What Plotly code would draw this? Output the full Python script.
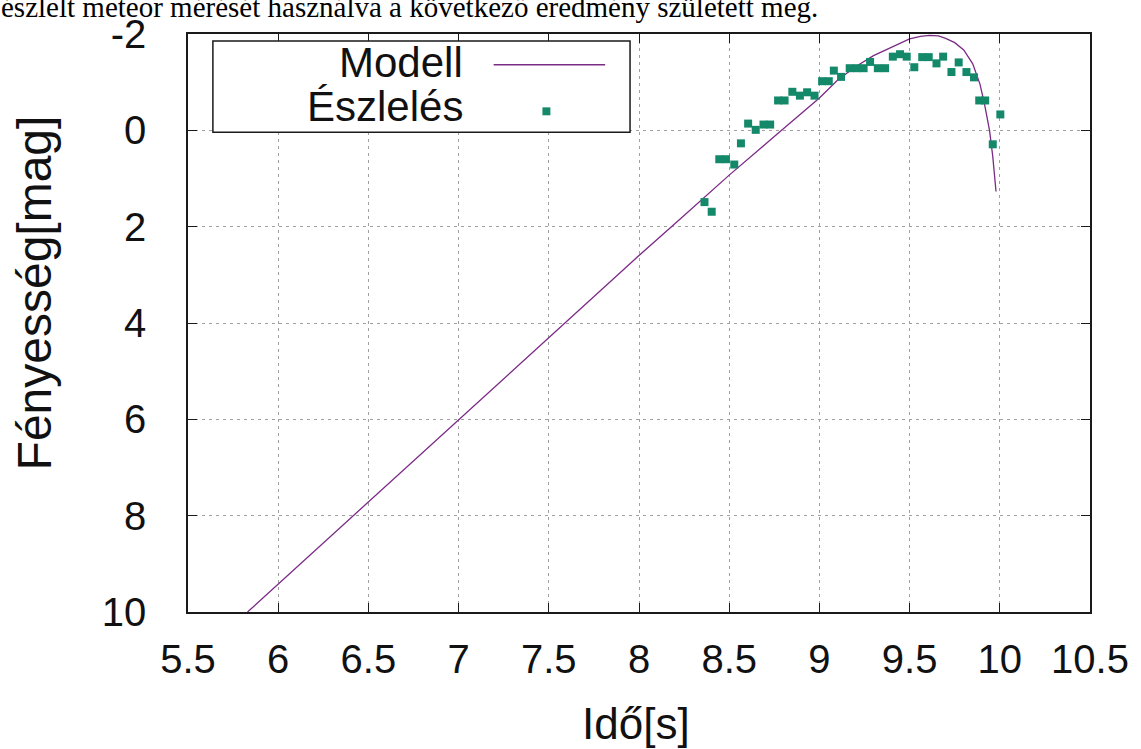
import plotly.graph_objects as go

# ---------------- data ----------------
model_t = [5.83, 6.0, 6.5, 7.0, 7.5, 8.0, 8.25, 8.5, 8.75, 9.0, 9.1, 9.2, 9.3, 9.43,
           9.5, 9.56, 9.61, 9.66, 9.7, 9.75, 9.8, 9.85, 9.89, 9.915, 9.943, 9.961, 9.979]
model_mag = [10.0, 9.42, 7.72, 6.0, 4.3, 2.6, 1.77, 0.93, 0.13, -0.67, -1.04, -1.32, -1.55, -1.77,
             -1.9, -1.95, -1.97, -1.96, -1.91, -1.82, -1.67, -1.38, -0.96, -0.55, 0.0, 0.54, 1.27]

obs_t = [8.363, 8.403, 8.445, 8.482, 8.528, 8.565, 8.605, 8.647, 8.690, 8.727,
         8.771, 8.807, 8.850, 8.892, 8.932, 8.973, 9.015, 9.052, 9.080, 9.120,
         9.168, 9.208, 9.245, 9.281, 9.324, 9.364, 9.407, 9.447, 9.484, 9.526,
         9.570, 9.606, 9.649, 9.686, 9.732, 9.772, 9.815, 9.857, 9.886, 9.919,
         9.961, 10.003]
obs_mag = [1.49, 1.69, 0.60, 0.60, 0.71, 0.27, -0.14, -0.01, -0.12, -0.12,
           -0.62, -0.62, -0.80, -0.72, -0.79, -0.72, -1.02, -1.02, -1.24, -1.11,
           -1.29, -1.29, -1.29, -1.42, -1.29, -1.29, -1.53, -1.58, -1.53, -1.31,
           -1.52, -1.52, -1.39, -1.53, -1.21, -1.41, -1.21, -1.10, -0.62, -0.62,
           0.29, -0.33]

x_tickvals = [5.5, 6, 6.5, 7, 7.5, 8, 8.5, 9, 9.5, 10, 10.5]
x_ticktext = ["5.5", "6", "6.5", "7", "7.5", "8", "8.5", "9", "9.5", "10", "10.5"]
y_tickvals = [-2, 0, 2, 4, 6, 8, 10]
y_ticktext = ["-2", "0", "2", "4", "6", "8", "10"]

series_names = ["Modell", "Észlelés"]
x_title = "Idő[s]"
y_title = "Fényesség[mag]"
caption = "észlelt meteor mérését használva a következő eredmény született meg."

# ---------------- layout geometry ----------------
W, H = 1141, 749
L, R, T, B = 188, 47, 29, 137
PW, PH = W - L - R, H - T - B


def px(x):
    return (x - L) / PW


def py(y):
    return (H - B - y) / PH


LINE_COLOR = "#7b2a86"
MARK_COLOR = "#13896a"
FONT = "Liberation Sans"

fig = go.Figure()
fig.add_trace(go.Scatter(x=model_t, y=model_mag, mode="lines", name=series_names[0],
                         line=dict(color=LINE_COLOR, width=1.3)))
fig.add_trace(go.Scatter(x=obs_t, y=obs_mag, mode="markers", name=series_names[1],
                         marker=dict(color=MARK_COLOR, symbol="square", size=8,
                                     line=dict(width=0))))

axis_common = dict(
    showline=True, linecolor="#1a1a1a", linewidth=1.5, mirror="ticks",
    ticks="inside", ticklen=9, tickwidth=1.3, tickcolor="#1a1a1a",
    showgrid=True, gridcolor="#a0a0a0", gridwidth=1, griddash="3px,4px",
    zeroline=False, tickfont=dict(family=FONT, size=40, color="#111"),
)

fig.update_layout(
    width=W, height=H,
    margin=dict(l=L, r=R, t=T, b=B, pad=0),
    paper_bgcolor="white", plot_bgcolor="white",
    showlegend=False,
    font=dict(family=FONT, color="#111"),
    xaxis=dict(range=[5.5, 10.5], tickvals=x_tickvals, ticktext=x_ticktext,
               ticklabelstandoff=11, **axis_common),
    yaxis=dict(range=[10, -2], tickvals=y_tickvals, ticktext=y_ticktext,
               ticklabelstandoff=32, **axis_common),
)

# legend box (drawn manually to match text-left / sample-right layout)
fig.add_shape(type="rect", xref="paper", yref="paper",
              x0=px(213), x1=px(632), y0=py(128), y1=py(36),
              line=dict(color="#1a1a1a", width=1.5), fillcolor="white", layer="above")
fig.add_shape(type="line", xref="paper", yref="paper",
              x0=px(495), x1=px(607), y0=py(60), y1=py(60),
              line=dict(color=LINE_COLOR, width=1.3), layer="above")
fig.add_shape(type="rect", xref="paper", yref="paper",
              x0=px(544), x1=px(552), y0=py(111), y1=py(103),
              line=dict(width=0), fillcolor=MARK_COLOR, layer="above")

fig.add_annotation(text=series_names[0], xref="paper", yref="paper", x=px(466), y=py(58),
                   xanchor="right", yanchor="middle", showarrow=False,
                   font=dict(family=FONT, size=42, color="#111"))
fig.add_annotation(text=series_names[1], xref="paper", yref="paper", x=px(466), y=py(102),
                   xanchor="right", yanchor="middle", showarrow=False,
                   font=dict(family=FONT, size=42, color="#111"))

# axis titles
fig.add_annotation(text=x_title, xref="paper", yref="paper", x=px(638), y=py(724),
                   xanchor="center", yanchor="middle", showarrow=False,
                   font=dict(family=FONT, size=44, color="#111"))
fig.add_annotation(text=y_title, xref="paper", yref="paper", x=px(34), y=py(290),
                   xanchor="center", yanchor="middle", showarrow=False, textangle=-90,
                   font=dict(family=FONT, size=48, color="#111"))

# caption text from the surrounding document (cut off at the top)
fig.add_annotation(text=caption, xref="paper", yref="paper", x=px(-2), y=py(20),
                   xanchor="left", yanchor="bottom", showarrow=False,
                   font=dict(family="Liberation Serif", size=29, color="#000"))

fig.write_html("out.html")
